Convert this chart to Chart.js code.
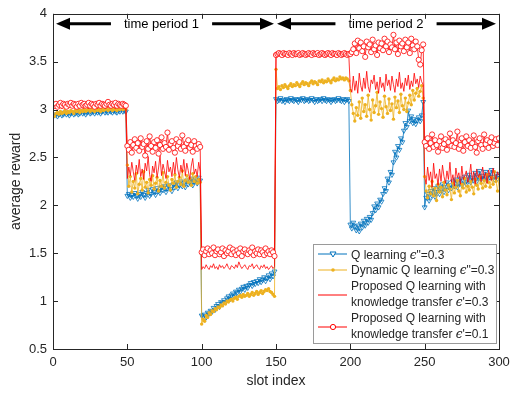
<!DOCTYPE html>
<html><head><meta charset="utf-8">
<script src="https://cdn.jsdelivr.net/npm/chart.js@4.4.1/dist/chart.umd.min.js"></script>
<style>html,body{margin:0;padding:0;background:#fff}#wrap{width:519px;height:395px}</style>
</head><body><div id="wrap"><canvas id="c" width="519" height="395"></canvas></div>
<script>
// x categories: slot index 1..300
const slotCount = 300;
const xTicks = [0, 50, 100, 150, 200, 250, 300];
const yTicks = [0.5, 1, 1.5, 2, 2.5, 3, 3.5, 4];

// Q learning eps''=0.3
const qLearning = [
2.94,2.95,2.93,2.95,2.96,2.94,2.95,2.97,2.95,2.96,2.94,2.96,2.97,2.95,2.96,2.97,2.95,2.96,2.98,2.96,
2.97,2.95,2.97,2.98,2.96,2.97,2.98,2.96,2.98,2.97,2.98,2.96,2.98,2.99,2.97,2.98,2.97,2.99,2.98,2.97,
2.99,2.98,2.97,2.99,2.98,3.00,2.98,2.99,2.98,
2.10,2.12,2.08,2.11,2.09,2.13,2.10,2.07,2.12,2.09,2.14,2.11,2.08,2.13,2.16,2.10,2.12,2.17,2.14,2.11,
2.18,2.15,2.13,2.19,2.16,2.20,2.14,2.18,2.21,2.17,2.15,2.22,2.19,2.24,2.18,2.21,2.25,2.20,2.23,2.19,
2.26,2.22,2.24,2.28,2.21,2.25,2.27,2.23,2.29,2.26,
0.85,0.84,0.86,0.83,0.88,0.87,0.90,0.89,0.93,0.91,0.95,0.97,0.94,0.99,0.98,1.01,0.99,1.03,1.05,1.02,
1.06,1.08,1.05,1.10,1.09,1.12,1.10,1.13,1.15,1.12,1.16,1.14,1.17,1.19,1.16,1.20,1.18,1.21,1.19,1.23,
1.20,1.22,1.25,1.21,1.24,1.27,1.23,1.29,1.26,1.31,
3.11,3.09,3.10,3.12,3.09,3.10,3.08,3.11,3.10,3.09,3.12,3.10,3.09,3.11,3.10,3.08,3.11,3.10,3.12,3.09,
3.10,3.11,3.09,3.10,3.12,3.10,3.08,3.11,3.09,3.10,3.11,3.09,3.12,3.10,3.09,3.11,3.10,3.08,3.10,3.11,
3.09,3.10,3.12,3.10,3.09,3.11,3.08,3.10,3.11,3.09,
1.80,1.76,1.82,1.78,1.74,1.79,1.73,1.81,1.77,1.84,1.79,1.86,1.82,1.88,1.85,1.92,
1.99,1.95,2.02,1.98,2.06,2.04,
2.12,2.18,2.15,2.28,2.24,2.35,2.32,2.45,
2.56,2.50,2.62,2.58,2.70,2.66,2.78,2.86,2.82,2.99,
2.88,2.93,2.86,2.90,2.85,2.89,2.92,2.88,2.94,3.08,
1.98,2.08,2.12,2.05,2.15,2.10,2.18,2.09,2.14,2.20,2.12,2.17,2.22,2.14,2.19,2.24,2.16,2.21,2.18,2.25,
2.20,2.27,2.19,2.23,2.28,2.21,2.26,2.30,2.22,2.27,2.32,2.24,2.29,2.26,2.34,2.25,2.30,2.36,2.27,2.31,
2.28,2.35,2.26,2.32,2.29,2.37,2.30,2.27,2.33,2.28,2.31
];

// Dynamic Q learning eps''=0.3
const dynamicQ = [
2.93,2.96,2.97,2.95,2.98,2.96,2.97,2.99,2.96,2.98,2.97,2.99,2.98,2.96,2.99,2.98,3.00,2.97,2.99,2.98,
3.00,2.98,2.99,3.01,2.98,3.00,2.99,2.98,3.01,2.99,3.00,2.98,3.01,2.99,3.00,3.02,2.99,3.00,3.01,2.99,
3.01,3.00,2.99,3.01,3.00,3.02,3.00,3.01,3.00,
2.42,2.20,2.30,2.14,2.25,2.18,2.33,2.12,2.22,2.28,2.16,2.35,2.19,2.24,2.13,2.27,2.21,2.31,2.17,2.23,
2.29,2.15,2.26,2.20,2.34,2.18,2.24,2.30,2.21,2.16,2.27,2.23,2.32,2.19,2.25,2.29,2.22,2.36,2.20,2.26,
2.31,2.24,2.28,2.21,2.33,2.25,2.30,2.23,2.27,2.24,
0.76,0.81,0.79,0.85,0.83,0.88,0.86,0.90,0.89,0.92,0.91,0.94,0.93,0.96,0.95,0.98,0.97,1.00,0.99,1.01,
1.02,1.00,1.03,1.04,1.02,1.05,1.06,1.04,1.07,1.05,1.06,1.08,1.05,1.07,1.09,1.06,1.08,1.10,1.07,1.09,
1.11,1.08,1.10,1.12,1.11,1.13,1.10,1.09,1.07,1.05,
3.42,3.22,3.24,3.21,3.25,3.23,3.26,3.24,3.22,3.25,3.27,3.24,3.26,3.25,3.28,3.26,3.24,3.27,3.29,3.26,
3.28,3.27,3.25,3.28,3.30,3.27,3.29,3.28,3.26,3.30,3.29,3.31,3.28,3.30,3.29,3.32,3.30,3.28,3.31,3.33,
3.30,3.32,3.31,3.34,3.32,3.33,3.31,3.33,3.32,3.30,
3.20,3.05,2.96,2.88,3.02,2.94,3.08,2.91,3.12,2.98,3.05,2.93,3.15,3.00,2.89,3.10,2.97,3.04,3.18,2.95,
3.08,3.01,2.92,3.14,3.03,2.96,3.11,2.99,3.06,2.90,3.13,3.02,3.09,2.97,3.16,3.04,3.00,3.12,2.98,3.07,
3.15,3.05,3.20,3.10,3.17,3.22,3.14,3.19,3.25,3.12,
2.30,2.15,2.08,2.20,2.12,2.25,2.10,2.18,2.05,2.22,2.14,2.19,2.09,2.24,2.16,2.11,2.21,2.17,2.06,2.23,
2.13,2.19,2.26,2.15,2.10,2.22,2.18,2.28,2.14,2.20,2.16,2.25,2.19,2.12,2.27,2.21,2.17,2.30,2.23,2.18,
2.26,2.20,2.32,2.24,2.19,2.29,2.22,2.35,2.25,2.15,2.28
];

// Proposed Q learning with knowledge transfer eps'=0.3
const transfer03 = [
3.01,3.02,3.01,3.03,3.02,3.01,3.02,3.03,3.02,3.01,3.02,3.03,3.02,3.02,3.01,3.03,3.02,3.02,3.03,3.01,
3.02,3.03,3.02,3.01,3.03,3.02,3.02,3.03,3.02,3.01,3.03,3.02,3.02,3.03,3.01,3.02,3.03,3.02,3.02,3.03,
3.02,3.01,3.03,3.02,3.02,3.03,3.02,3.01,3.02,
2.28,2.40,2.31,2.45,2.35,2.26,2.42,2.33,2.48,2.30,2.38,2.27,2.44,2.36,2.51,2.32,2.25,2.41,2.34,2.46,
2.29,2.39,2.52,2.31,2.43,2.36,2.28,2.47,2.35,2.40,2.30,2.45,2.33,2.50,2.37,2.29,2.42,2.34,2.48,2.31,
2.44,2.36,2.27,2.41,2.49,2.33,2.38,2.30,2.45,2.35,
1.33,1.36,1.34,1.38,1.35,1.33,1.37,1.35,1.39,1.34,1.36,1.33,1.38,1.35,1.37,1.34,1.36,1.39,1.35,1.33,
1.37,1.36,1.34,1.38,1.35,1.41,1.37,1.34,1.36,1.38,1.35,1.33,1.37,1.36,1.39,1.34,1.36,1.38,1.35,1.33,
1.37,1.35,1.38,1.34,1.36,1.33,1.35,1.37,1.34,1.36,
3.56,3.55,3.56,3.57,3.56,3.55,3.56,3.56,3.57,3.55,3.56,3.57,3.56,3.55,3.56,3.57,3.56,3.56,3.55,3.57,
3.56,3.55,3.57,3.56,3.56,3.55,3.57,3.56,3.55,3.56,3.57,3.56,3.55,3.56,3.57,3.56,3.56,3.55,3.57,3.56,
3.55,3.56,3.57,3.56,3.55,3.56,3.57,3.56,3.55,3.56,
3.22,3.18,3.35,3.20,3.30,3.17,3.38,3.25,3.19,3.33,3.22,3.40,3.24,3.18,3.31,3.27,3.36,3.21,3.29,3.17,
3.34,3.23,3.28,3.19,3.37,3.25,3.31,3.20,3.35,3.26,3.18,3.32,3.24,3.39,3.22,3.28,3.19,3.33,3.25,3.36,
3.21,3.30,3.24,3.38,3.27,3.32,3.23,3.35,3.29,3.26,
2.30,2.22,2.40,2.26,2.35,2.19,2.44,2.28,2.33,2.21,2.38,2.25,2.42,2.30,2.23,2.36,2.27,2.45,2.24,2.32,
2.20,2.39,2.29,2.34,2.22,2.41,2.27,2.31,2.36,2.24,2.30,2.43,2.26,2.35,2.22,2.38,2.29,2.33,2.25,2.40,
2.28,2.34,2.23,2.37,2.30,2.26,2.39,2.32,2.27,2.35,2.31
];

// Proposed Q learning with knowledge transfer eps'=0.1
const transfer01 = [
3.04,3.06,3.03,3.05,3.07,3.04,3.06,3.05,3.03,3.06,3.05,3.07,3.04,3.06,3.05,3.03,3.06,3.04,3.07,3.05,
3.06,3.04,3.05,3.07,3.04,3.06,3.05,3.03,3.06,3.05,3.07,3.04,3.06,3.05,3.04,3.06,3.08,3.05,3.04,3.06,
3.05,3.07,3.04,3.06,3.05,3.04,3.06,3.05,3.04,
2.62,2.58,2.66,2.55,2.63,2.69,2.60,2.65,2.57,2.70,2.61,2.64,2.52,2.67,2.59,2.72,2.62,2.56,2.66,2.60,
2.68,2.54,2.63,2.71,2.59,2.65,2.61,2.76,2.58,2.64,2.67,2.60,2.55,2.69,2.62,2.66,2.59,2.73,2.61,2.57,
2.65,2.68,2.60,2.63,2.56,2.67,2.62,2.59,2.64,2.61,
1.51,1.54,1.48,1.52,1.55,1.49,1.53,1.50,1.56,1.48,1.52,1.54,1.49,1.51,1.55,1.47,1.53,1.50,1.52,1.56,
1.49,1.54,1.51,1.48,1.53,1.50,1.55,1.47,1.52,1.54,1.50,1.49,1.53,1.51,1.56,1.48,1.52,1.50,1.54,1.49,
1.53,1.51,1.48,1.55,1.50,1.52,1.49,1.53,1.51,1.47,
3.57,3.58,3.59,3.58,3.57,3.59,3.58,3.58,3.57,3.59,3.58,3.57,3.59,3.58,3.58,3.59,3.57,3.58,3.59,3.58,
3.57,3.58,3.59,3.58,3.57,3.59,3.58,3.58,3.59,3.57,3.58,3.59,3.58,3.57,3.58,3.59,3.58,3.57,3.59,3.58,
3.58,3.57,3.59,3.58,3.57,3.58,3.59,3.58,3.57,3.58,
3.58,3.60,3.63,3.69,3.59,3.72,3.64,3.70,3.61,3.66,3.55,3.71,3.65,3.68,3.60,3.73,3.63,3.67,3.57,3.70,
3.64,3.69,3.62,3.74,3.66,3.71,3.60,3.68,3.65,3.78,3.63,3.70,3.58,3.72,3.66,3.69,3.61,3.73,3.65,3.70,
3.59,3.74,3.67,3.63,3.71,3.66,3.52,3.47,3.62,3.68,
2.66,2.62,2.70,2.59,2.65,2.74,2.61,2.68,2.63,2.56,2.67,2.72,2.60,2.64,2.69,2.58,2.66,2.75,2.62,2.68,
2.61,2.65,2.77,2.59,2.63,2.70,2.57,2.66,2.72,2.62,2.68,2.60,2.65,2.73,2.61,2.55,2.67,2.70,2.63,2.59,
2.74,2.64,2.68,2.60,2.66,2.71,2.62,2.65,2.69,2.63,2.70
];

const slots = Array.from({length: slotCount}, (_, i) => i + 1);
const toXY = arr => arr.map((v, i) => ({x: slots[i], y: v}));

const BLUE = '#0072BD', YELLOW = '#EDB120', RED = '#FF0000', AX = '#262626';
const NF = '12px "Liberation Sans", Arial, sans-serif';
const EF = 'italic 12px "DejaVu Serif", serif';

const framePlugin = {
  id: 'frame',
  afterDraw(chart) {
    const ctx = chart.ctx;
    const {left, right, top, bottom} = chart.chartArea;
    const xs = chart.scales.x, ys = chart.scales.y;
    ctx.save();
    ctx.strokeStyle = AX; ctx.lineWidth = 1;
    ctx.strokeRect(Math.round(left) + 0.5, Math.round(top) + 0.5, Math.round(right - left), Math.round(bottom - top));
    ctx.beginPath();
    xTicks.forEach(v => {
      const p = Math.round(xs.getPixelForValue(v)) + 0.5;
      ctx.moveTo(p, bottom); ctx.lineTo(p, bottom - 5);
      ctx.moveTo(p, top); ctx.lineTo(p, top + 5);
    });
    yTicks.forEach(v => {
      const p = Math.round(ys.getPixelForValue(v)) + 0.5;
      ctx.moveTo(left, p); ctx.lineTo(left + 5, p);
      ctx.moveTo(right, p); ctx.lineTo(right - 5, p);
    });
    ctx.stroke();

    // axis titles
    ctx.fillStyle = AX;
    ctx.font = '14px "Liberation Sans", Arial, sans-serif';
    ctx.textAlign = 'center'; ctx.textBaseline = 'middle';
    ctx.fillText('slot index', (left + right) / 2, 381);
    ctx.save();
    ctx.translate(16, (top + bottom) / 2);
    ctx.rotate(-Math.PI / 2);
    ctx.fillText('average reward', 0, 0);
    ctx.restore();

    // time period arrows
    const ay = ys.getPixelForValue(3.897);
    const drawArrow = (x0, x1, label, cx) => {
      ctx.fillStyle = '#000'; ctx.strokeStyle = '#000';
      ctx.font = '13px "Liberation Sans", Arial, sans-serif';
      const tw = ctx.measureText(label).width;
      const gapL = cx - tw / 2 - 13, gapR = cx + tw / 2 + 13;
      ctx.lineWidth = 3;
      ctx.beginPath();
      ctx.moveTo(x0 + 12, ay); ctx.lineTo(gapL, ay);
      ctx.moveTo(gapR, ay); ctx.lineTo(x1 - 12, ay);
      ctx.stroke();
      ctx.beginPath();
      ctx.moveTo(x0, ay); ctx.lineTo(x0 + 14, ay - 6); ctx.lineTo(x0 + 14, ay + 6); ctx.closePath();
      ctx.moveTo(x1, ay); ctx.lineTo(x1 - 14, ay - 6); ctx.lineTo(x1 - 14, ay + 6); ctx.closePath();
      ctx.fill();
      ctx.textAlign = 'center'; ctx.textBaseline = 'middle';
      ctx.fillText(label, cx, ay + 1);
    };
    drawArrow(xs.getPixelForValue(0) + 3, xs.getPixelForValue(150) - 2, 'time period 1', xs.getPixelForValue(73));
    drawArrow(xs.getPixelForValue(150) + 1, xs.getPixelForValue(300) - 3, 'time period 2', xs.getPixelForValue(224));

    // legend
    const bx = 313.5, by = 244.5, bw = 183, bh = 99;
    ctx.fillStyle = '#fff'; ctx.fillRect(bx, by, bw, bh);
    ctx.strokeStyle = '#9a9a9a'; ctx.lineWidth = 1; ctx.strokeRect(bx, by, bw, bh);
    const sx0 = 318, sx1 = 347, smid = 333, tx = 351;
    const sample = (y, color, marker) => {
      ctx.strokeStyle = color; ctx.lineWidth = 1;
      ctx.beginPath(); ctx.moveTo(sx0, y); ctx.lineTo(sx1, y); ctx.stroke();
      if (marker === 'tri') {
        ctx.beginPath(); ctx.moveTo(smid - 3, y - 2); ctx.lineTo(smid + 3, y - 2); ctx.lineTo(smid, y + 3); ctx.closePath();
        ctx.fillStyle = '#fff'; ctx.fill(); ctx.stroke();
      } else if (marker === 'dot') {
        ctx.beginPath(); ctx.arc(smid, y, 1.8, 0, Math.PI * 2); ctx.fillStyle = color; ctx.fill();
      } else if (marker === 'circ') {
        ctx.beginPath(); ctx.arc(smid, y, 2.6, 0, Math.PI * 2); ctx.fillStyle = '#fff'; ctx.fill(); ctx.stroke();
      }
    };
    const rich = (parts, y) => {
      let cx = tx;
      ctx.fillStyle = AX; ctx.textAlign = 'left'; ctx.textBaseline = 'middle';
      parts.forEach(([t, f]) => { ctx.font = f; ctx.fillText(t, cx, y); cx += ctx.measureText(t).width; });
    };
    sample(254, BLUE, 'tri');
    sample(270, YELLOW, 'dot');
    sample(295, RED, null);
    sample(327, RED, 'circ');
    rich([['Q learning ', NF], ['\u03F5', EF], ['"=0.3', NF]], 256);
    rich([['Dynamic Q learning ', NF], ['\u03F5', EF], ['"=0.3', NF]], 271);
    rich([['Proposed Q learning with', NF]], 287);
    rich([['knowledge transfer ', NF], ['\u03F5', EF], ["'=0.3", NF]], 303);
    rich([['Proposed Q learning with', NF]], 319);
    rich([['knowledge transfer ', NF], ['\u03F5', EF], ["'=0.1", NF]], 335);
    ctx.restore();
  }
};

new Chart(document.getElementById('c'), {
  type: 'line',
  data: {
    datasets: [
      { label: 'transfer01', data: toXY(transfer01), borderColor: RED, borderWidth: 0.8,
        pointStyle: 'circle', pointRadius: 2.6, pointBorderWidth: 0.8, pointBorderColor: RED,
        pointBackgroundColor: '#fff', tension: 0 },
      { label: 'transfer03', data: toXY(transfer03), borderColor: RED, borderWidth: 0.8,
        pointRadius: 0, tension: 0 },
      { label: 'dynamicQ', data: toXY(dynamicQ), borderColor: YELLOW, borderWidth: 0.8,
        pointStyle: 'circle', pointRadius: 1.7, pointBorderWidth: 0, pointBackgroundColor: YELLOW, tension: 0 },
      { label: 'qLearning', data: toXY(qLearning), borderColor: BLUE, borderWidth: 0.8,
        pointStyle: 'triangle', pointRotation: 180, pointRadius: 2.8, pointBorderWidth: 0.8,
        pointBorderColor: BLUE, pointBackgroundColor: 'rgba(255,255,255,0)', tension: 0 }
    ]
  },
  options: {
    responsive: false, animation: false, events: [],
    layout: { padding: { top: 10, right: 20, left: 0, bottom: 0 } },
    plugins: { legend: { display: false }, tooltip: { enabled: false } },
    scales: {
      x: { type: 'linear', min: 0, max: 300,
        afterFit: s => { s.height = 46; },
        afterBuildTicks: s => { s.ticks = xTicks.map(v => ({value: v})); },
        grid: { display: false, drawTicks: false }, border: { display: false },
        ticks: { padding: 6, color: AX, callback: v => String(v),
          font: { family: '"Liberation Sans", Arial, sans-serif', size: 13 }, maxRotation: 0 } },
      y: { min: 0.5, max: 4,
        afterFit: s => { s.width = 53; },
        afterBuildTicks: s => { s.ticks = yTicks.map(v => ({value: v})); },
        grid: { display: false, drawTicks: false }, border: { display: false },
        ticks: { padding: 6, color: AX, callback: v => String(v),
          font: { family: '"Liberation Sans", Arial, sans-serif', size: 13 } } }
    }
  },
  plugins: [framePlugin]
});
</script></body></html>
